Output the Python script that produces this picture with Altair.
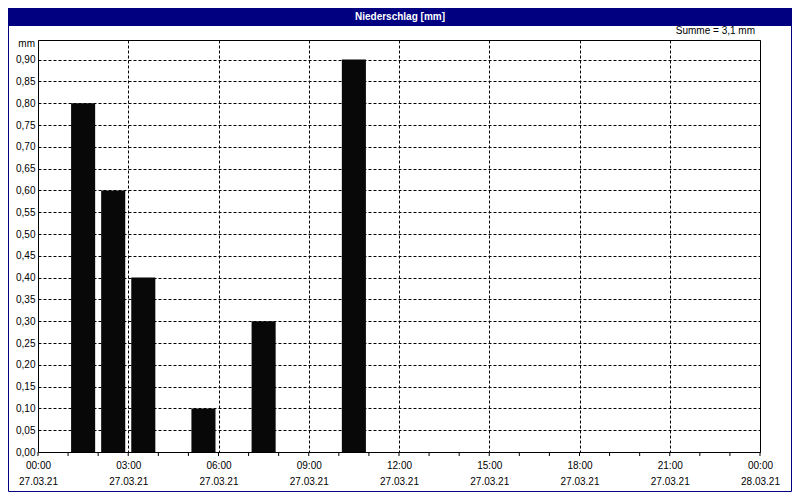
import altair as alt
import pandas as pd

# ---- data ----
hours = ["01:00", "02:00", "03:00", "05:00", "07:00", "10:00"]
values = [0.8, 0.6, 0.4, 0.1, 0.3, 0.9]
minor_tick_hours = list(range(0, 25))
major_tick_hours = list(range(0, 25, 3))
y_ticks = [round(i * 0.05, 2) for i in range(0, 19)]
title_text = "Niederschlag [mm]"
unit_text = "mm"
date_day = "27.03.21"
date_next = "28.03.21"

df = pd.DataFrame({"time": hours, "value": values})
df["h"] = df["time"].str.slice(0, 2).astype(int)

W, H = 722, 412
PL, PT, PR, PB = 30, 32, 32, 40
NAVY = "#000080"
FONT = "Liberation Sans"

x_scale = alt.Scale(domain=[0, 24], nice=False, zero=False, padding=0)
y_scale = alt.Scale(domain=[0, 0.945], nice=False, zero=True, padding=0)

x_label_expr = (
    "[(datum.value % 24 < 10 ? '0' : '') + (datum.value % 24) + ':00', "
    f"datum.value < 24 ? '{date_day}' : '{date_next}']"
)

x_axis = alt.Axis(
    values=major_tick_hours,
    title=None,
    labelExpr=x_label_expr,
    labelFont=FONT,
    labelFontSize=10,
    labelColor="black",
    labelLineHeight=16,
    labelPadding=8,
    labelFlush=False,
    labelOverlap=False,
    ticks=False,
    domain=False,
    grid=True,
    gridColor="black",
    gridDash=[3, 2],
)

y_axis = alt.Axis(
    values=y_ticks,
    title=None,
    labelExpr="replace(format(datum.value, '.2f'), '.', ',')",
    labelFont=FONT,
    labelFontSize=10,
    labelColor="black",
    labelPadding=3,
    ticks=False,
    domain=False,
    grid=True,
    gridColor="black",
    gridDash=[3, 2],
)

bars = (
    alt.Chart(df)
    .transform_calculate(x0="datum.h + 0.1", x1="datum.h + 0.9")
    .mark_bar(color="#080808", orient="vertical")
    .encode(
        x=alt.X("x0:Q", scale=x_scale, axis=x_axis),
        x2="x1:Q",
        y=alt.Y("value:Q", scale=y_scale, axis=y_axis),
        y2=alt.datum(0),
    )
)

minor_ticks = (
    alt.Chart(pd.DataFrame({"hour": minor_tick_hours}))
    .mark_rule(color="black", strokeWidth=1)
    .encode(
        x=alt.X("hour:Q", scale=x_scale, axis=x_axis),
        y=alt.value(H),
        y2=alt.value(H + 4),
    )
)

one = pd.DataFrame({"t": [title_text]})

title_bar = alt.Chart(one).mark_rect(color=NAVY).encode(
    x=alt.value(-PL), x2=alt.value(W + PR), y=alt.value(-PT), y2=alt.value(-PT + 18)
)

title = alt.Chart(one).mark_text(
    color="white", font=FONT, fontSize=10, fontWeight="bold", align="center", baseline="middle"
).encode(x=alt.value((W + PR - PL) / 2), y=alt.value(-PT + 9), text="t:N")

frame = alt.Chart(one).mark_rect(fillOpacity=0, stroke=NAVY, strokeWidth=1).encode(
    x=alt.value(-PL + 0.5), x2=alt.value(W + PR - 0.5),
    y=alt.value(-PT + 0.5), y2=alt.value(H + PB - 0.5)
)

mm_label = alt.Chart(pd.DataFrame({"t": [unit_text]})).mark_text(
    color="black", font=FONT, fontSize=10, align="right", baseline="middle"
).encode(x=alt.value(-3), y=alt.value(4), text="t:N")

summe = (
    alt.Chart(df)
    .transform_aggregate(s="sum(value)")
    .transform_calculate(t="'Summe = ' + replace(format(datum.s, '.1f'), '.', ',') + ' mm'")
    .mark_text(color="black", font=FONT, fontSize=10, align="right", baseline="middle")
    .encode(x=alt.value(W - 5), y=alt.value(-9), text="t:N")
)

chart = (
    alt.layer(title_bar, title, frame, bars, minor_ticks, mm_label, summe)
    .properties(
        width=W,
        height=H,
        padding={"left": PL, "top": PT, "right": PR, "bottom": PB},
        autosize=alt.AutoSizeParams(type="none"),
        background="white",
    )
    .configure_view(stroke="black", strokeWidth=1)
)

chart.save("out.html", embed_options={"renderer": "svg", "actions": False})
